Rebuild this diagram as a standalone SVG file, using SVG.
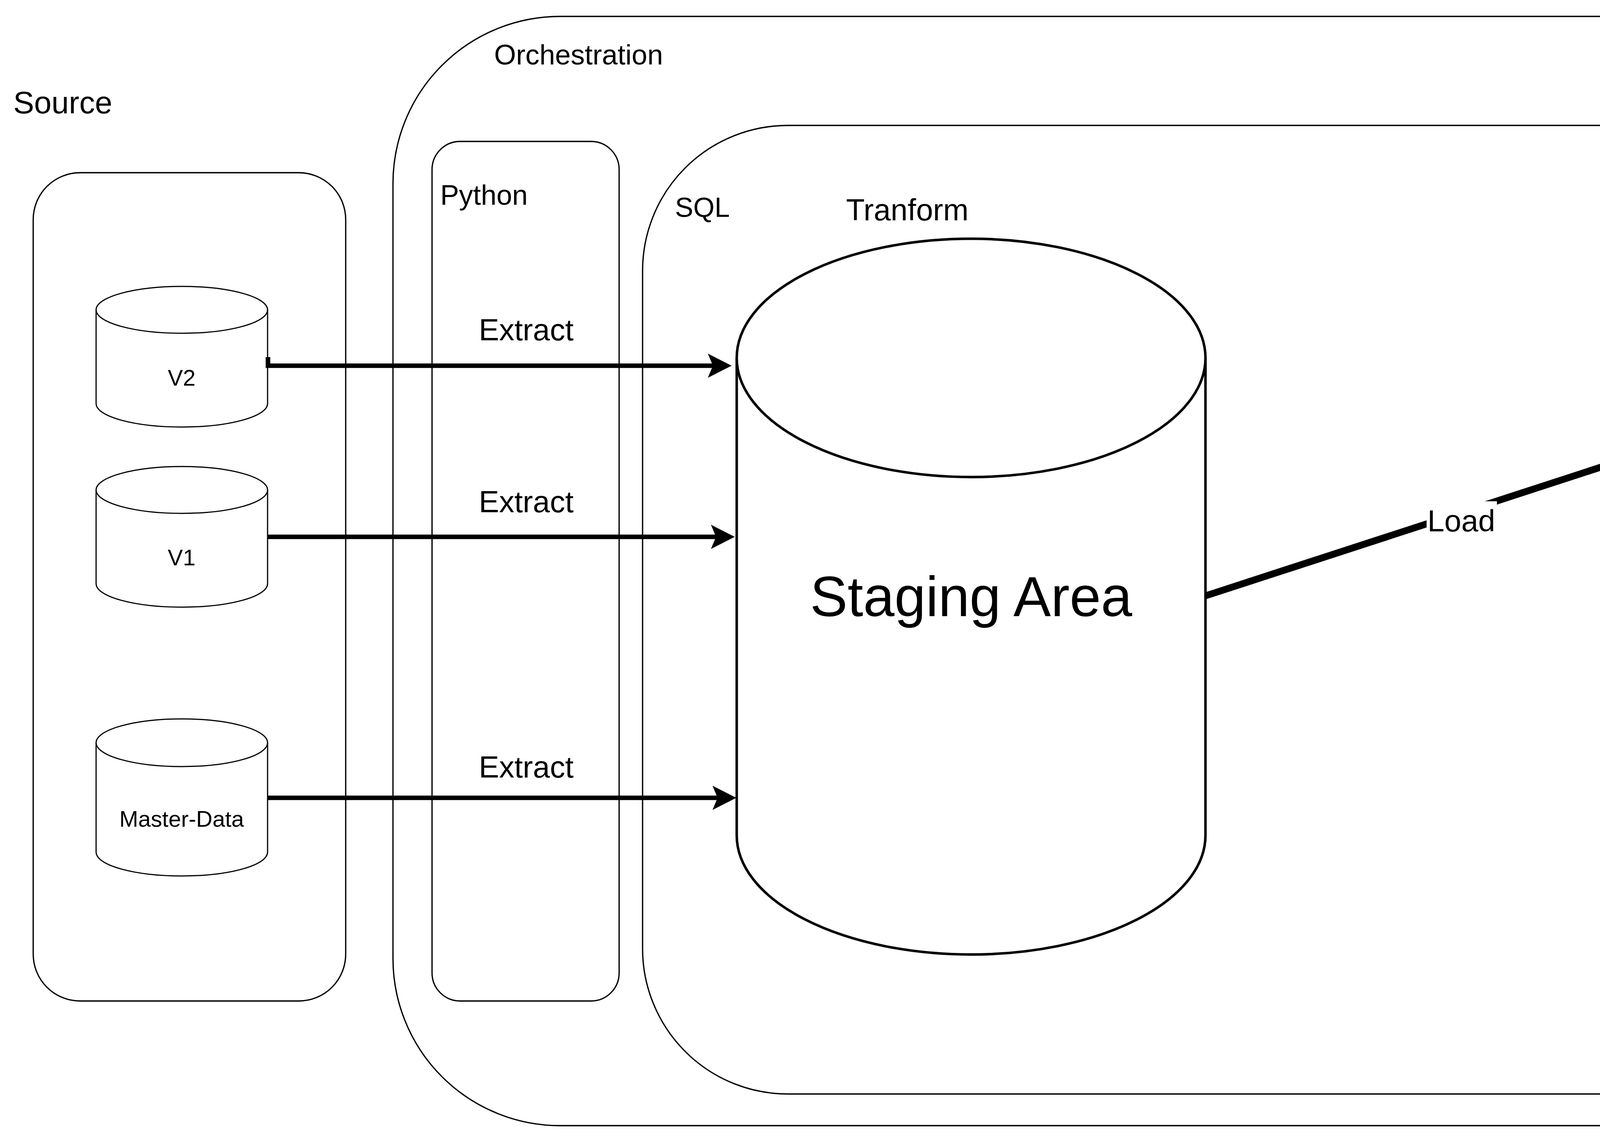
<svg xmlns="http://www.w3.org/2000/svg" width="7248" height="2928" viewBox="0 0 7248 2928">
<style>
.box{fill:none;stroke:#000;stroke-width:3.3}
.cyl{fill:#fff;stroke:#000;stroke-width:3}
.big{fill:#fff;stroke:#000;stroke-width:6.5}
.t{font-family:"Liberation Sans",Arial,Helvetica,sans-serif;fill:#000}
.m{text-anchor:middle}
.e1{fill:none;stroke:#000;stroke-width:11.7;stroke-linejoin:miter;stroke-linecap:butt}
.e2{fill:none;stroke:#000;stroke-width:17.5;stroke-linejoin:miter;stroke-linecap:butt}
</style>
<defs>
<marker id="arrS" markerUnits="userSpaceOnUse" viewBox="0 -31 61 62" refX="13" refY="0" markerWidth="61" markerHeight="62" orient="auto">
<path d="M0,-31 L61,0 L0,31 L13,0 Z" fill="#000"/>
</marker>
<marker id="arrL" markerUnits="userSpaceOnUse" viewBox="0 -44 86 88" refX="16" refY="0" markerWidth="86" markerHeight="88" orient="auto">
<path d="M0,-44 L86,0 L0,44 L16,0 Z" fill="#000"/>
</marker>
</defs>
<rect width="7248" height="2928" fill="#fff"/>

<g id="source">
<rect class="box" x="85" y="442" width="800" height="2120" rx="120" ry="120"/>
<text class="t" x="34" y="290" font-size="80">Source</text>
</g>

<g id="orchestration">
<rect class="box" x="1006" y="42" width="4640" height="2839" rx="428" ry="428"/>
<text class="t" x="1265" y="165" font-size="72">Orchestration</text>
<text x="5195" y="204" font-size="70" font-family="'Open Sans','Noto Sans',sans-serif" fill="#000">Airflow</text>
</g>

<g id="python">
<rect class="box" x="1106" y="362" width="479" height="2200" rx="72" ry="72"/>
<text class="t" x="1127" y="524" font-size="72">Python</text>
</g>

<g id="sql">
<rect class="box" x="1645" y="321" width="3921" height="2479" rx="372" ry="372"/>
<text class="t" x="1728" y="555" font-size="70">SQL</text>
<text class="t" x="2166" y="564" font-size="78">Tranform</text>
</g>

<g id="v2">
<path class="cyl" d="M246,793 V1033 A219.5,60 0 0 0 685,1033 V793"/>
<ellipse class="cyl" cx="465.5" cy="793" rx="219.5" ry="60"/>
<text class="t m" x="465" y="987" font-size="58">V2</text>
</g>

<g id="v1">
<path class="cyl" d="M246,1254 V1494 A219.5,60 0 0 0 685,1494 V1254"/>
<ellipse class="cyl" cx="465.5" cy="1254" rx="219.5" ry="60"/>
<text class="t m" x="465" y="1447" font-size="58">V1</text>
</g>

<g id="master-data">
<path class="cyl" d="M246,1901 V2181 A219.5,61 0 0 0 685,2181 V1901"/>
<ellipse class="cyl" cx="465.5" cy="1901" rx="219.5" ry="61"/>
<text class="t m" x="465" y="2116" font-size="58">Master-Data</text>
</g>

<g id="staging">
<path class="big" d="M1886,916 V2138 A600,305 0 0 0 3086,2138 V916"/>
<ellipse class="big" cx="2486" cy="916" rx="600" ry="305"/>
<text class="t m" x="2486" y="1577" font-size="144">Staging Area</text>
</g>

<g id="dwh">
<path class="big" d="M4326,781 V1462 A600,170 0 0 0 5526,1462 V781"/>
<ellipse class="big" cx="4926" cy="781" rx="600" ry="170"/>
<text class="t m" x="4926" y="1170" font-size="144">DWH Area</text>
</g>

<g id="datamart">
<path class="big" d="M4585,2056 V2607 A341,137 0 0 0 5267,2607 V2056"/>
<ellipse class="big" cx="4926" cy="2056" rx="341" ry="137"/>
<text class="t m" x="4926" y="2296" font-size="144">Datamart</text>
<text class="t m" x="4926" y="2470" font-size="144">Area</text>
</g>

<g id="bi">
<rect class="box" x="6206" y="199" width="999" height="1523" rx="150" ry="150"/>
<text class="t m" x="6705" y="996" font-size="103">BI Application</text>
</g>

<g id="connectors">
<path class="e1" d="M686,914 V936 H1825" marker-end="url(#arrS)"/>
<path class="e1" d="M685,1374 H1833" marker-end="url(#arrS)"/>
<path class="e1" d="M685,2042 H1837" marker-end="url(#arrS)"/>
<text class="t m" x="1347" y="871" font-size="78">Extract</text>
<text class="t m" x="1347" y="1311" font-size="78">Extract</text>
<text class="t m" x="1347" y="1990" font-size="78">Extract</text>

<path class="e2" d="M3086,1525 L4257,1144" marker-end="url(#arrL)"/>
<rect x="3652" y="1283" width="180" height="94" fill="#fff"/>
<text class="t m" x="3741" y="1360" font-size="78">Load</text>

<path class="e2" d="M5526,1122 H5872 L6136,1126" marker-end="url(#arrL)"/>

<path class="e2" d="M4926,1632 V1849" marker-end="url(#arrL)"/>
<text class="t m" x="5146" y="1792" font-size="78">Load</text>

<path class="e2" d="M5267,2332 H6707 V1793" marker-end="url(#arrL)"/>
</g>
</svg>
